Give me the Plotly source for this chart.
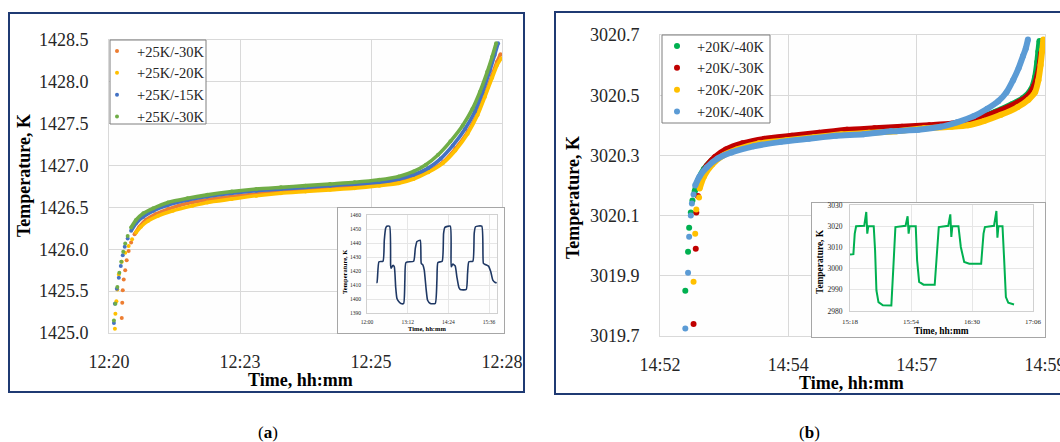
import plotly.graph_objects as go

W, H = 1060, 442
FONT = "Liberation Serif"

# ---------------- Panel (a) data (minutes after 12:20, K) ----------------
a_names = ["+25K/-30K", "+25K/-20K", "+25K/-15K", "+25K/-30K"]
a_colors = ["#ED7D31", "#FFC000", "#4472C4", "#70AD47"]

a_orange_t = [0.26, 0.27, 0.28, 0.30, 0.33, 0.36, 0.40, 0.45, 0.52, 0.62, 0.75, 0.95, 1.2, 1.6, 2.0, 2.5, 3.0, 3.5, 4.0, 4.5, 5.0, 5.5, 5.9, 6.2, 6.5, 6.8, 7.05, 7.3, 7.5, 7.65, 7.8, 7.9, 7.97]
a_orange_v = [1425.18, 1425.36, 1425.51, 1425.64, 1425.75, 1425.87, 1425.98, 1426.08, 1426.18, 1426.27, 1426.35, 1426.42, 1426.48, 1426.55, 1426.59, 1426.63, 1426.66, 1426.69, 1426.71, 1426.73, 1426.75, 1426.78, 1426.81, 1426.86, 1426.93, 1427.04, 1427.20, 1427.40, 1427.62, 1427.84, 1428.08, 1428.24, 1428.33]

a_yellow_t = [0.12, 0.13, 0.15, 0.17, 0.20, 0.26, 0.33, 0.40, 0.47, 0.55, 0.65, 0.8, 1.0, 1.3, 1.7, 2.0, 2.5, 3.0, 3.5, 4.0, 4.5, 5.0, 5.5, 5.9, 6.2, 6.5, 6.8, 7.05, 7.3, 7.5, 7.65, 7.8, 7.9, 7.98]
a_yellow_v = [1425.05, 1425.23, 1425.38, 1425.52, 1425.70, 1425.85, 1425.96, 1426.04, 1426.12, 1426.20, 1426.27, 1426.34, 1426.40, 1426.46, 1426.52, 1426.56, 1426.60, 1426.64, 1426.67, 1426.69, 1426.71, 1426.73, 1426.76, 1426.79, 1426.84, 1426.92, 1427.03, 1427.18, 1427.38, 1427.60, 1427.82, 1428.05, 1428.20, 1428.28]

a_blue_t = [0.10, 0.12, 0.16, 0.20, 0.24, 0.28, 0.32, 0.38, 0.45, 0.55, 0.7, 0.9, 1.2, 1.6, 2.0, 2.5, 3.0, 3.5, 4.0, 4.5, 5.0, 5.5, 5.9, 6.2, 6.5, 6.75, 7.0, 7.25, 7.45, 7.6, 7.75, 7.85, 7.92]
a_blue_v = [1425.12, 1425.35, 1425.53, 1425.66, 1425.80, 1425.93, 1426.03, 1426.13, 1426.22, 1426.31, 1426.39, 1426.46, 1426.53, 1426.59, 1426.63, 1426.67, 1426.70, 1426.72, 1426.74, 1426.76, 1426.78, 1426.80, 1426.84, 1426.89, 1426.97, 1427.08, 1427.24, 1427.44, 1427.65, 1427.87, 1428.13, 1428.32, 1428.46]

a_green_t = [0.10, 0.13, 0.17, 0.21, 0.25, 0.29, 0.33, 0.38, 0.45, 0.55, 0.7, 0.9, 1.2, 1.6, 2.0, 2.5, 3.0, 3.5, 4.0, 4.5, 5.0, 5.5, 5.9, 6.2, 6.45, 6.7, 6.95, 7.2, 7.4, 7.55, 7.7, 7.8, 7.88]
a_green_v = [1425.15, 1425.35, 1425.55, 1425.72, 1425.85, 1425.97, 1426.07, 1426.16, 1426.26, 1426.35, 1426.43, 1426.49, 1426.56, 1426.61, 1426.65, 1426.69, 1426.72, 1426.74, 1426.76, 1426.78, 1426.80, 1426.83, 1426.87, 1426.93, 1427.01, 1427.13, 1427.29, 1427.48, 1427.68, 1427.88, 1428.12, 1428.30, 1428.46]

a_series = [(a_orange_t, a_orange_v, 8), (a_yellow_t, a_yellow_v, 9), (a_blue_t, a_blue_v, 8), (a_green_t, a_green_v, 8)]
a_xticks = [0, 8 / 3, 16 / 3, 8]
a_xlabels = ["12:20", "12:23", "12:25", "12:28"]

# inset (a): minutes after 12:00
ia_t = [16.5, 17.7, 21.2, 28.3, 30.6, 33.0, 35.0, 40.0, 41.8, 42.5, 46.0, 48.3, 50.7, 53.0, 56.5, 60.0, 64.8, 67.0, 69.0, 82.5, 85.4, 88.4, 94.2, 96.0, 99.0, 101.3, 104.8, 107.2, 112.0, 120.7, 123.7, 125.5, 133.0, 135.5, 137.8, 147.3, 149.0, 152.0, 156.0, 159.0, 162.6, 165.0, 175.5, 177.9, 180.2, 187.3, 189.7, 192.0, 203.0, 206.0, 209.0, 215.0, 219.0, 222.6, 226.8, 229.5]
ia_v = [1411.8, 1411.8, 1426.6, 1427.0, 1442.0, 1450.5, 1452.0, 1452.0, 1424.0, 1422.0, 1424.0, 1423.0, 1408.7, 1400.3, 1398.0, 1396.8, 1396.8, 1413.5, 1426.1, 1427.0, 1436.0, 1441.0, 1442.0, 1425.4, 1424.2, 1420.6, 1406.3, 1399.1, 1396.8, 1396.8, 1413.5, 1426.1, 1427.0, 1446.9, 1451.2, 1452.0, 1423.0, 1424.9, 1423.7, 1415.8, 1408.2, 1406.8, 1406.8, 1418.2, 1426.6, 1427.0, 1446.9, 1451.6, 1452.0, 1425.4, 1424.7, 1423.5, 1419.4, 1413.5, 1411.8, 1411.6]
ia_xticks = [0, 72, 144, 216]
ia_xlabels = ["12:00", "13:12", "14:24", "15:36"]

# ---------------- Panel (b) data (minutes after 14:52, K) ----------------
b_names = ["+20K/-40K", "+20K/-30K", "+20K/-20K", "+20K/-40K"]
b_colors = ["#00B050", "#C00000", "#FFC000", "#5B9BD5"]

b_green_t = [0.46, 0.51, 0.53, 0.56, 0.59, 0.63, 0.70, 0.80, 0.95, 1.15, 1.4, 1.8, 2.3, 2.8, 3.3, 3.8, 4.3, 4.8, 5.2, 5.5, 5.8, 6.1, 6.4, 6.6, 6.75, 6.82, 6.86, 6.88, 6.90]
b_green_v = [3019.85, 3019.98, 3020.06, 3020.11, 3020.15, 3020.18, 3020.22, 3020.255, 3020.285, 3020.31, 3020.325, 3020.34, 3020.355, 3020.365, 3020.375, 3020.38, 3020.39, 3020.395, 3020.40, 3020.41, 3020.425, 3020.445, 3020.47, 3020.49, 3020.52, 3020.56, 3020.61, 3020.645, 3020.68]

b_red_t = [0.61, 0.65, 0.66, 0.69, 0.75, 0.85, 1.0, 1.2, 1.5, 1.9, 2.4, 2.9, 3.4, 3.9, 4.4, 4.9, 5.3, 5.6, 5.9, 6.2, 6.5, 6.7, 6.8, 6.87, 6.91, 6.93]
b_red_v = [3019.74, 3019.99, 3020.11, 3020.165, 3020.23, 3020.265, 3020.295, 3020.32, 3020.34, 3020.355, 3020.365, 3020.375, 3020.385, 3020.39, 3020.395, 3020.40, 3020.405, 3020.415, 3020.43, 3020.45, 3020.475, 3020.50, 3020.53, 3020.57, 3020.61, 3020.64]

b_yellow_t = [0.61, 0.64, 0.66, 0.71, 0.72, 0.80, 0.95, 1.15, 1.4, 1.8, 2.3, 2.8, 3.3, 3.8, 4.3, 4.8, 5.3, 5.6, 5.9, 6.2, 6.5, 6.7, 6.82, 6.88, 6.92, 6.95, 6.97]
b_yellow_v = [3019.88, 3020.04, 3020.12, 3020.16, 3020.19, 3020.23, 3020.27, 3020.30, 3020.32, 3020.34, 3020.35, 3020.36, 3020.37, 3020.375, 3020.38, 3020.39, 3020.395, 3020.40, 3020.415, 3020.435, 3020.46, 3020.485, 3020.51, 3020.55, 3020.60, 3020.65, 3020.685]

b_blue_t = [0.46, 0.51, 0.53, 0.56, 0.58, 0.61, 0.64, 0.72, 0.85, 1.05, 1.3, 1.7, 2.2, 2.7, 3.2, 3.7, 4.2, 4.7, 5.1, 5.4, 5.7, 5.95, 6.15, 6.3, 6.42, 6.52, 6.6, 6.65, 6.69]
b_blue_v = [3019.725, 3019.91, 3020.03, 3020.10, 3020.14, 3020.17, 3020.20, 3020.23, 3020.26, 3020.29, 3020.31, 3020.33, 3020.345, 3020.355, 3020.365, 3020.37, 3020.38, 3020.385, 3020.395, 3020.41, 3020.43, 3020.455, 3020.48, 3020.51, 3020.55, 3020.59, 3020.63, 3020.655, 3020.685]

b_series = [(b_green_t, b_green_v, 5), (b_red_t, b_red_v, 4), (b_yellow_t, b_yellow_v, 4), (b_blue_t, b_blue_v, 6)]
b_xticks = [0, 7 / 3, 14 / 3, 7]
b_xlabels = ["14:52", "14:54", "14:57", "14:59"]

# inset (b): minutes after 15:18
ib_t = [0.0, 2.0, 2.8, 3.6, 8.4, 9.6, 10.2, 10.8, 14.0, 14.8, 15.6, 16.8, 19.4, 24.4, 25.6, 26.8, 32.8, 34.0, 34.6, 35.2, 38.8, 39.6, 40.8, 43.4, 50.0, 51.2, 52.4, 58.0, 59.2, 59.8, 60.4, 64.0, 65.4, 67.4, 70.4, 77.4, 78.8, 79.6, 85.0, 86.4, 87.0, 87.6, 90.0, 91.0, 92.0, 93.4, 96.8]
ib_v = [3006.6, 3006.8, 3016.5, 3020.0, 3020.2, 3026.7, 3016.5, 3020.0, 3020.0, 3008.6, 2989.7, 2984.2, 2982.7, 2982.6, 3000.8, 3019.6, 3020.2, 3024.7, 3016.5, 3020.0, 3020.0, 3003.9, 2993.7, 2992.4, 2992.4, 3007.0, 3019.6, 3020.2, 3025.6, 3014.9, 3020.0, 3020.0, 3010.2, 3003.1, 3002.3, 3002.3, 3016.5, 3019.6, 3020.2, 3027.2, 3014.6, 3020.0, 3020.0, 3003.9, 2986.6, 2983.9, 2983.1]
ib_xticks = [0, 36, 72, 108]
ib_xlabels = ["15:18", "15:54", "16:30", "17:06"]


def fx(p):
    return p / W


def fy(p):
    return 1 - p / H


fig = go.Figure()

# ---- main traces ----
for (t, v, k), name, col in zip(a_series, a_names, a_colors):
    fig.add_trace(go.Scatter(x=t[k:], y=v[k:], mode="lines", line=dict(color=col, width=3.6, shape="spline", smoothing=0.6),
                             showlegend=False, hoverinfo="skip", xaxis="x", yaxis="y"))
    fig.add_trace(go.Scatter(x=t, y=v, mode="markers", name=name, marker=dict(color=col, size=4),
                             xaxis="x", yaxis="y", legend="legend"))

for (t, v, k), name, col in zip(b_series, b_names, b_colors):
    fig.add_trace(go.Scatter(x=t[k:], y=v[k:], mode="lines", line=dict(color=col, width=6, shape="spline", smoothing=0.6),
                             showlegend=False, hoverinfo="skip", xaxis="x4", yaxis="y4"))
    fig.add_trace(go.Scatter(x=t, y=v, mode="markers", name=name, marker=dict(color=col, size=6),
                             xaxis="x4", yaxis="y4", legend="legend2"))

# inset box background subplots (empty)
fig.add_trace(go.Scatter(x=[], y=[], xaxis="x2", yaxis="y2", showlegend=False))
fig.add_trace(go.Scatter(x=[], y=[], xaxis="x5", yaxis="y5", showlegend=False))

# inset traces
fig.add_trace(go.Scatter(x=ia_t, y=ia_v, mode="lines", line=dict(color="#1F3864", width=1.6, shape="spline", smoothing=0.5),
                         showlegend=False, xaxis="x3", yaxis="y3"))
fig.add_trace(go.Scatter(x=ib_t, y=ib_v, mode="lines", line=dict(color="#00B050", width=2),
                         showlegend=False, xaxis="x6", yaxis="y6"))

GRID = "#D9D9D9"
TICKC = "#262626"


def main_axis(domain, rng, anchor, **kw):
    return dict(domain=domain, range=rng, anchor=anchor, showgrid=True, gridcolor=GRID, gridwidth=1,
                zeroline=False, showline=True, mirror=True, linecolor=GRID, linewidth=1, ticks="",
                automargin=False, ticklabeloverflow="allow",
                tickfont=dict(family=FONT, size=18, color=TICKC), fixedrange=True, **kw)


def inset_axis(domain, rng, anchor, size, **kw):
    return dict(domain=domain, range=rng, anchor=anchor, showgrid=True, gridcolor="#E6E6E6", gridwidth=1,
                zeroline=False, showline=True, mirror=True, linecolor="#D0D0D0", linewidth=1, ticks="",
                automargin=False, ticklabeloverflow="allow",
                tickfont=dict(family=FONT, size=size, color=TICKC), fixedrange=True, **kw)


def box_axis(domain, anchor):
    return dict(domain=domain, range=[0, 1], anchor=anchor, showgrid=False, zeroline=False, showticklabels=False,
                automargin=False,
                showline=True, mirror=True, linecolor="#A6A6A6", linewidth=1.2, ticks="", fixedrange=True)


fig.update_layout(
    width=W, height=H, margin=dict(l=0, r=0, t=0, b=0, autoexpand=False),
    paper_bgcolor="white", plot_bgcolor="#FEFEFE",
    xaxis=main_axis([fx(109), fx(502)], [0, 8], "y", tickvals=a_xticks, ticktext=a_xlabels, ticklabelstandoff=12),
    yaxis=main_axis([fy(333), fy(40)], [1425, 1428.5], "x", dtick=0.5, tick0=1425, tickformat=".1f", ticklabelstandoff=16),
    xaxis2=box_axis([fx(338), fx(504)], "y2"),
    yaxis2=box_axis([fy(333), fy(208)], "x2"),
    xaxis3=inset_axis([fx(367), fx(497)], [0, 230], "y3", 5.5, tickvals=ia_xticks, ticktext=ia_xlabels, ticklabelstandoff=3),
    yaxis3=inset_axis([fy(313), fy(215)], [1390, 1460], "x3", 5.5, dtick=10, ticklabelstandoff=4),
    xaxis4=main_axis([fx(660), fx(1045)], [0, 7], "y4", tickvals=b_xticks, ticktext=b_xlabels, ticklabelstandoff=12),
    yaxis4=main_axis([fy(336), fy(35)], [3019.7, 3020.7], "x4", dtick=0.2, tick0=3019.7, tickformat=".1f", ticklabelstandoff=16),
    xaxis5=box_axis([fx(812), fx(1045)], "y5"),
    yaxis5=box_axis([fy(337), fy(203)], "x5"),
    xaxis6=inset_axis([fx(850), fx(1033)], [0, 108], "y6", 7, tickvals=ib_xticks, ticktext=ib_xlabels, ticklabelstandoff=4),
    yaxis6=inset_axis([fy(311), fy(205)], [2980, 3030], "x6", 7.5, dtick=10, ticklabelstandoff=5),
    legend=dict(x=fx(97), xanchor="left", y=fy(35), yanchor="top", bgcolor="rgba(0,0,0,0)", borderwidth=0,
                font=dict(family=FONT, size=14.5, color=TICKC), tracegroupgap=0, itemclick=False),
    legend2=dict(x=fx(657), xanchor="left", y=fy(30), yanchor="top", bgcolor="rgba(0,0,0,0)", borderwidth=0,
                 font=dict(family=FONT, size=14.5, color=TICKC), tracegroupgap=0, itemclick=False),
    showlegend=True,
)

# panel borders and legend boxes
NAVY = "#1F3A73"
fig.add_shape(type="rect", xref="paper", yref="paper", x0=fx(9), x1=fx(524), y0=fy(392), y1=fy(13),
              line=dict(color=NAVY, width=2), layer="above")
fig.add_shape(type="rect", xref="paper", yref="paper", x0=fx(555), x1=fx(1075), y0=fy(394), y1=fy(12),
              line=dict(color=NAVY, width=2), layer="above")
fig.add_shape(type="rect", xref="paper", yref="paper", x0=fx(110), x1=fx(206), y0=fy(124), y1=fy(40),
              line=dict(color="#7F7F7F", width=1), fillcolor="white", layer="above")
fig.add_shape(type="rect", xref="paper", yref="paper", x0=fx(662), x1=fx(770), y0=fy(123), y1=fy(35),
              line=dict(color="#7F7F7F", width=1), fillcolor="white", layer="above")


def ann(text, x, y, size, angle=0, bold=True):
    fig.add_annotation(text=f"<b>{text}</b>" if bold else text, x=fx(x), y=fy(y), xref="paper", yref="paper",
                       showarrow=False, textangle=angle, xanchor="center", yanchor="middle",
                       font=dict(family=FONT, size=size, color="black"))


ann("Temperature, K", 24, 176, 18, -90)
ann("Time, hh:mm", 300, 380, 18)
ann("Temperature, K", 573, 198, 18, -90)
ann("Time, hh:mm", 851, 383, 18)
ann("Temperature, K", 344, 272, 6.5, -90)
ann("Time, hh:mm", 427, 328, 6.5)
ann("Temperature, K", 820, 262, 9.4, -90)
ann("Time, hh:mm", 941, 331, 9.4)
ann("(<b>a</b>)", 268, 432, 17, bold=False)
ann("(<b>b</b>)", 809, 432, 17, bold=False)

fig.write_html("out.html", config={"displayModeBar": False})
